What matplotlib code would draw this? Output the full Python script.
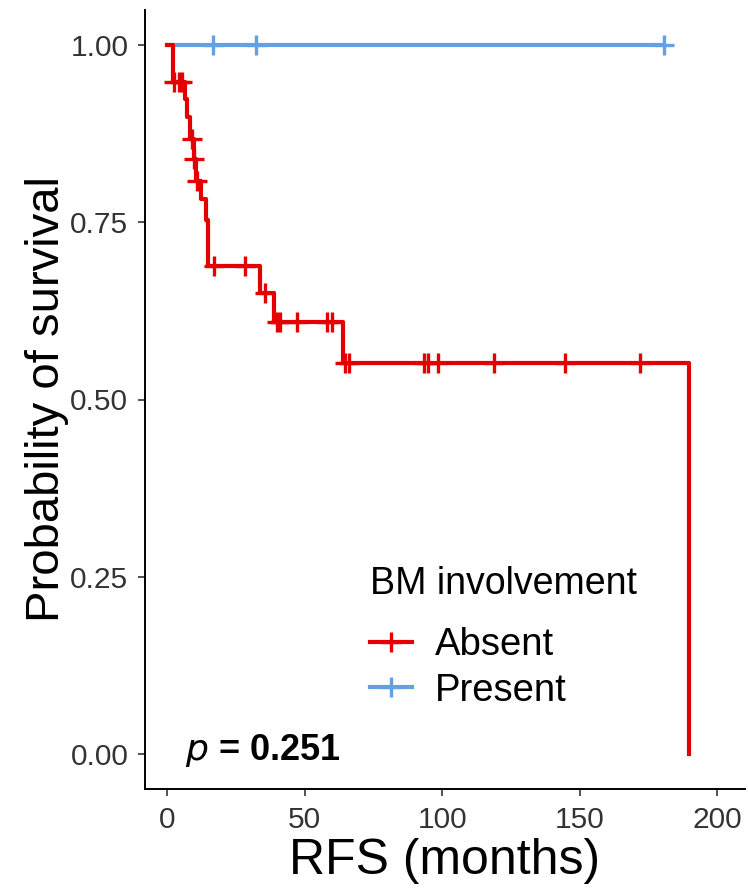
import numpy as np
import matplotlib
matplotlib.use("Agg")
import matplotlib.pyplot as plt
from matplotlib.lines import Line2D

plt.rcParams['font.family'] = ['Liberation Sans', 'DejaVu Sans']

# ---- data ----
groups = ["Absent", "Present"]
colors = ["#E40000", "#64A0E6"]

red_times = [0, 2.2, 6.5, 7.2, 8.5, 9.8, 10.6, 12.5, 14.2, 15.0, 33.8, 39.0, 63.8, 189.6]
red_surv = [1.0, 0.949, 0.925, 0.899, 0.868, 0.840, 0.808, 0.783, 0.753, 0.689, 0.651, 0.609, 0.551, 0.0]
red_censor = [2.4, 4.4, 5.5, 9.0, 9.9, 10.8, 17.0, 28.4, 35.6, 39.8, 41.2, 47.2, 58.0, 60.0,
              64.7, 66.3, 93.2, 95.0, 98.6, 118.7, 144.7, 171.7]

blue_times = [0, 180.5]
blue_surv = [1.0, 1.0]
blue_censor = [16.7, 32.4, 180.5]

x_ticks = [0, 50, 100, 150, 200]
y_ticks = [0.0, 0.25, 0.5, 0.75, 1.0]
y_ticklabels = ["0.00", "0.25", "0.50", "0.75", "1.00"]
p_text = "0.251"


def surv_at(times, surv, t):
    idx = np.searchsorted(np.asarray(times), t, side="right") - 1
    return np.asarray(surv)[idx]


W, H = 748, 893
fig = plt.figure(figsize=(W / 100, H / 100), dpi=100)
ax = fig.add_axes([145 / W, (H - 789) / H, 600 / W, 779 / H])

lw = 3.0
ms = 15
mew = 2.4

ax.step(blue_times, blue_surv, where="post", color=colors[1], lw=lw, zorder=3)
ax.plot(blue_censor, surv_at(blue_times, blue_surv, blue_censor), ls="none",
        marker="+", ms=ms, mew=mew, color=colors[1], zorder=3)

ax.step(red_times, red_surv, where="post", color=colors[0], lw=lw, zorder=4)
ax.plot(red_censor, surv_at(red_times, red_surv, red_censor), ls="none",
        marker="+", ms=ms, mew=mew, color=colors[0], zorder=4)

ax.set_xlim(-8, 210)
ax.set_ylim(-0.05, 1.05)
ax.set_xticks(x_ticks)
ax.set_yticks(y_ticks)
ax.set_yticklabels(y_ticklabels)

for s in ["top", "right"]:
    ax.spines[s].set_visible(False)
for s in ["left", "bottom"]:
    ax.spines[s].set_linewidth(1.4)
    ax.spines[s].set_color("black")

ax.tick_params(axis="both", length=5, width=1.2, color="#333333",
               labelsize=21.5, labelcolor="#333333", pad=7)

ax.set_xlabel("RFS (months)", fontsize=36, labelpad=3)
ax.set_ylabel("Probability of survival", fontsize=34, labelpad=1)

ax.text(6.5, 0.004, r"$\mathit{p}$" + " = " + p_text, fontsize=26, fontweight="bold",
        ha="left", va="center")

handles = [Line2D([0], [0], color=c, lw=lw, marker="+", ms=ms, mew=mew) for c in colors]
leg = ax.legend(handles, groups, title="BM involvement", loc="upper left",
                bbox_to_anchor=(0.318, 0.33), frameon=False, fontsize=27.5,
                title_fontsize=27, alignment="left", handlelength=1.1,
                handletextpad=0.6, labelspacing=0.25)
leg._legend_box.sep = 18

fig.savefig("out.png", dpi=100)
